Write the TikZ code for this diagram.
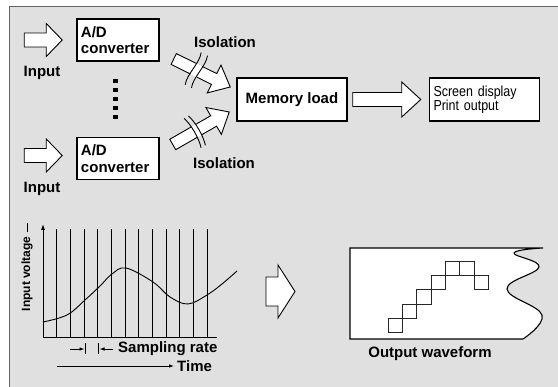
\documentclass[tikz,border=0pt]{standalone}
\usepackage{fontspec}
\setmainfont{Liberation Sans}
\newfontfamily\narrowsans[FakeStretch=0.86]{Liberation Sans}
\usepackage{tikz}
\usetikzlibrary{arrows.meta, positioning, calc}

\definecolor{panelgray}{RGB}{224,224,224}
\definecolor{rulegray}{RGB}{100,100,100}
\newcommand{\lblfont}{\fontsize{15}{16.5}\selectfont\bfseries}

% hollow block arrow: [opts]{from}{to}{half shaft}{half head}{head length}
\newcommand{\blockarrow}[6][]{%
  \draw[blockarr,#1] let \p1=($(#3)!#6!(#2)$) in
    ($(#2)!#4!90:(#3)$) -- ($(\p1)!#4!90:(#3)$) -- ($(\p1)!#5!90:(#3)$)
    -- (#3) -- ($(\p1)!#5!-90:(#3)$) -- ($(\p1)!#4!-90:(#3)$)
    -- ($(#2)!#4!-90:(#3)$) -- cycle;}

\begin{document}
\begin{tikzpicture}[x=1pt, y=-1pt,
  adbox/.style    = {rectangle, draw=black, line width=1.5pt, fill=white,
                     minimum width=82pt, minimum height=42pt, text width=74pt,
                     inner sep=4pt, align=left, font=\lblfont},
  membox/.style   = {rectangle, draw=black, line width=1.5pt, fill=white,
                     minimum width=110pt, minimum height=43pt, align=center,
                     font=\lblfont},
  dispbox/.style  = {rectangle, draw=black, line width=1.5pt, fill=white,
                     minimum width=110pt, minimum height=43pt, text width=102pt,
                     inner sep=4pt, align=left,
                     font=\narrowsans\fontsize{14.5}{14}\selectfont},
  lbl/.style      = {inner sep=1pt, font=\lblfont},
  blockarr/.style = {draw=black, line width=0.9pt, fill=white, line join=miter},
  gridln/.style   = {black, line width=0.9pt},
  axisarr/.style  = {black, line width=0.9pt, -{Latex[length=6pt,width=4pt]}},
  tickarr/.style  = {black, line width=0.8pt, -{Latex[length=5pt,width=3.5pt]}},
  cell/.style     = {draw=black!85, line width=0.9pt},
  isoS/.pic = {
    \fill[white] (-3.5,-6.6) rectangle (3.5,6.6);
    \draw[line width=0.9pt] (-3.5,-18) .. controls (0,-8) and (-7,8) .. (-3.5,18);
    \draw[line width=0.9pt] (3.5,-18) .. controls (7,-8) and (0,8) .. (3.5,18);
  },
  isoC/.pic = {
    \fill[white] (-2.4,-6.6) rectangle (2.6,6.6);
    \draw[line width=0.9pt] (-4.5,-17) .. controls (-1.5,-8) and (-1.5,8) .. (-4.5,17);
    \draw[line width=0.9pt] (0.5,-17) .. controls (3.5,-8) and (3.5,8) .. (0.5,17);
  }
]
\useasboundingbox (0,0) rectangle (558,387);
\fill[white] (0,0) rectangle (558,387);

% ── Panel ────────────────────────────────────────────────────────────────────
\fill[panelgray] (9,7) rectangle (562,392);
\draw[rulegray, line width=1pt] (9,392) -- (9,7) -- (562,7);

% ── Top row: converters, memory, display ─────────────────────────────────────
\node[adbox] (ad1) at (118,40) {A/D\\converter};
\node[adbox, below=75pt of ad1] (ad2) {A/D\\converter};
\node[membox] (mem) at (292,99.5) {Memory load};
\node[dispbox, right=81pt of mem] (disp) {Screen display\\Print output};

\foreach \k in {0,...,4}
  \fill (113,79+9*\k) rectangle ++(4.5,4.5);

% ── Input arrows ─────────────────────────────────────────────────────────────
\coordinate (in1s) at ($(ad1.west)+(-52,0)$);
\coordinate (in1e) at ($(ad1.west)+(-14,0)$);
\coordinate (in2s) at ($(ad2.west)+(-52,-3)$);
\coordinate (in2e) at ($(ad2.west)+(-14,-3)$);
\blockarrow{in1s}{in1e}{7pt}{16.5pt}{16pt}
\blockarrow{in2s}{in2e}{7pt}{16.5pt}{16pt}
\node[lbl] (in1lbl) at (42,73) {Input};
\node[lbl] (in2lbl) at (42,189) {Input};

% ── Isolation arrows ─────────────────────────────────────────────────────────
\coordinate (iso1s) at ($(ad1.east)+(14,19)$);
\coordinate (iso1e) at ($(mem.west)+(-6,-12.5)$);
\coordinate (iso2s) at ($(ad2.east)+(13,-14)$);
\coordinate (iso2e) at ($(mem.west)+(-7,12.5)$);
\blockarrow{iso1s}{iso1e}{6pt}{15.5pt}{18pt}
\blockarrow{iso2s}{iso2e}{6pt}{15.5pt}{18pt}
\path (iso1s) -- (iso1e) pic[pos=0.40, sloped] {isoS};
\path (iso2s) -- (iso2e) pic[pos=0.42, sloped] {isoC};
\node[lbl] (iso1lbl) at (225,42) {Isolation};
\node[lbl] (iso2lbl) at (224,163) {Isolation};

% ── Memory → display ─────────────────────────────────────────────────────────
\coordinate (outs) at ($(mem.east)+(5,0)$);
\coordinate (oute) at ($(disp.west)+(-8,0)$);
\blockarrow{outs}{oute}{7pt}{17.5pt}{19pt}

% ── Sampled input graph ──────────────────────────────────────────────────────
\foreach \i in {1,...,12}
  \draw[gridln] (43+13.67*\i,229) -- (43+13.67*\i,337);
\draw[axisarr] (43,337) -- (43,224);
\draw[gridln] (43,337) -- (217,337);
\draw[black, line width=0.9pt] plot[smooth, tension=0.6] coordinates
  {(43,322) (67,315) (85,300) (100,286) (112,274) (126,268) (153,282)
   (170,297) (188,304) (207,295) (222,284) (237,271)};
\node[lbl, rotate=90, font=\fontsize{12}{14}\selectfont\bfseries] (volt) at (27,274) {Input voltage};
\draw[black, line width=0.9pt] ($(volt.east)+(0,-3)$) -- ++(0,-9);

\draw[tickarr] (70,349) -- (84.5,349);
\draw[gridln] (85.5,343) -- (85.5,354);
\draw[gridln] (98.5,343) -- (98.5,354);
\draw[tickarr] (113,349) -- (99.5,349);
\node[lbl, anchor=west] (samp) at (117,349) {Sampling rate};
\draw[tickarr] (57,366) -- (174,366);
\node[lbl, anchor=west] (time) at (176,366) {Time};

% ── Graph → output ───────────────────────────────────────────────────────────
\coordinate (mids) at (266,291.5);
\coordinate (mide) at (295,291.5);
\blockarrow{mids}{mide}{14.5pt}{26.5pt}{17pt}

% ── Output waveform sheet ────────────────────────────────────────────────────
\draw[black, line width=1.1pt, fill=white] (350,339) -- (350,248)
  -- plot[smooth, tension=0.7] coordinates
  {(543,248) (514,253) (539,267) (507,289) (542,315) (523,339)}
  -- cycle;
\foreach \c/\r in {0/0, 1/-1, 2/-2, 3/-3, 4/-4, 5/-4, 6/-3}
  \draw[cell] (388.3+14.3*\c,318.3+14.3*\r) rectangle ++(14.3,14.3);
\node[lbl] (outlbl) at (430,354) {Output waveform};
\end{tikzpicture}
\end{document}
